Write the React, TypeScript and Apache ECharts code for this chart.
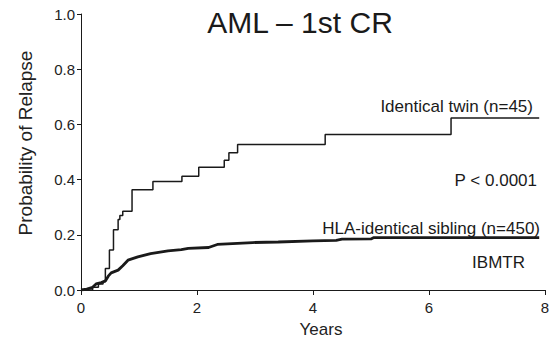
import React, { useEffect, useRef } from "react";
import * as echarts from "echarts";

const title = "AML – 1st CR";
const xName = "Years";
const yName = "Probability of Relapse";
const xTicks = [0, 2, 4, 6, 8];
const yTicks = [0, 0.2, 0.4, 0.6, 0.8, 1.0];

// Identical twin (n=45): [years, cumulative probability] at each step
const twinX = [0, 0.2, 0.3, 0.38, 0.42, 0.49, 0.56, 0.64, 0.67, 0.72, 0.88, 1.24, 1.74, 2.03, 2.47, 2.55, 2.7, 4.21, 6.38, 7.9];
const twinY = [0, 0.01, 0.022, 0.03, 0.078, 0.145, 0.218, 0.255, 0.27, 0.285, 0.363, 0.393, 0.412, 0.445, 0.47, 0.497, 0.527, 0.563, 0.623, 0.623];

// HLA-identical sibling (n=450)
const sibX = [0, 0.1, 0.2, 0.26, 0.35, 0.42, 0.47, 0.52, 0.64, 0.72, 0.81, 0.98, 1.2, 1.5, 1.73, 1.85, 2.2, 2.35, 2.96, 3.4, 4.0, 4.4, 4.5, 5.0, 5.05, 7.9];
const sibY = [0, 0.003, 0.01, 0.022, 0.027, 0.033, 0.05, 0.062, 0.072, 0.088, 0.108, 0.12, 0.132, 0.142, 0.146, 0.151, 0.154, 0.165, 0.172, 0.174, 0.178, 0.18, 0.184, 0.185, 0.19, 0.19];

const labels = [
  { text: "Identical twin (n=45)", x: 533, y: 106.6 },
  { text: "P < 0.0001", x: 537, y: 180.8 },
  { text: "HLA-identical sibling (n=450)", x: 540, y: 228 },
  { text: "IBMTR", x: 525, y: 262.2 },
];

export default function App() {
  const ref = useRef<HTMLDivElement>(null);
  useEffect(() => {
    if (!ref.current) return;
    const chart = echarts.init(ref.current, null, { renderer: "svg" });
    const font = "Arial, 'Liberation Sans', Helvetica, sans-serif";
    const ink = "#1a1a1a";
    chart.setOption({
      animation: false,
      backgroundColor: "#ffffff",
      grid: { left: 81, top: 14, right: 12, bottom: 52, containLabel: false },
      xAxis: {
        type: "value",
        min: 0,
        max: 8,
        interval: 2,
        axisLine: { lineStyle: { color: ink, width: 1 } },
        axisTick: { show: true, length: 5, lineStyle: { color: ink } },
        splitLine: { show: false },
        axisLabel: {
          color: "#222",
          fontFamily: font,
          fontSize: 15,
          margin: 10,
          formatter: (v: number) => (xTicks.includes(v) ? String(v) : ""),
        },
      },
      yAxis: {
        type: "value",
        min: 0,
        max: 1,
        interval: 0.2,
        axisLine: { show: true, lineStyle: { color: ink, width: 1 } },
        axisTick: { show: true, length: 4, lineStyle: { color: ink } },
        splitLine: { show: false },
        axisLabel: {
          color: "#222",
          fontFamily: font,
          fontSize: 15,
          margin: 6,
          formatter: (v: number) => {
            const t = yTicks.find((y) => Math.abs(y - v) < 1e-9);
            return t === undefined ? "" : t.toFixed(1);
          },
        },
      },
      series: [
        {
          name: "Identical twin (n=45)",
          type: "line",
          step: "end",
          symbol: "none",
          data: twinX.map((x, i) => [x, twinY[i]]),
          lineStyle: { color: ink, width: 1.5 },
        },
        {
          name: "HLA-identical sibling (n=450)",
          type: "line",
          symbol: "none",
          data: sibX.map((x, i) => [x, sibY[i]]),
          lineStyle: { color: ink, width: 2.8 },
        },
      ],
      graphic: [
        {
          type: "text",
          x: 300,
          y: 22.6,
          style: { text: title, font: `30px ${font}`, fill: ink, textAlign: "center", textVerticalAlign: "middle" },
        },
        {
          type: "text",
          x: 321,
          y: 329.4,
          style: { text: xName, font: `17px ${font}`, fill: "#222", textAlign: "center", textVerticalAlign: "middle" },
        },
        {
          type: "text",
          x: 25,
          y: 143,
          rotation: Math.PI / 2,
          style: { text: yName, font: `19px ${font}`, fill: "#222", textAlign: "center", textVerticalAlign: "middle" },
        },
        ...labels.map((l) => ({
          type: "text",
          x: l.x,
          y: l.y,
          style: { text: l.text, font: `17px ${font}`, fill: ink, textAlign: "right", textVerticalAlign: "middle" },
        })),
      ],
    });
    return () => chart.dispose();
  }, []);
  return (
    <div
      ref={ref}
      style={{ position: "fixed", left: 0, top: 0, width: 557, height: 342, background: "#fff" }}
    />
  );
}
